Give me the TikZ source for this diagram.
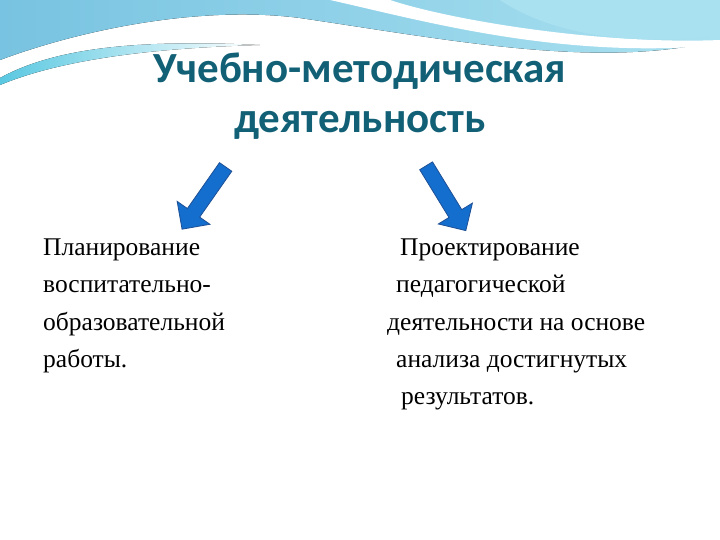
\documentclass[tikz,border=0pt]{standalone}
\usepackage{fontspec}
\setmainfont{Liberation Serif}
\newfontfamily\titlefont{Carlito}
\usetikzlibrary{shapes.arrows}
\definecolor{titleteal}{RGB}{18,96,118}
\definecolor{arrowblue}{RGB}{20,110,205}
\definecolor{arrowedge}{RGB}{30,80,150}
\definecolor{waveA}{RGB}{120,195,225}
\definecolor{waveB}{RGB}{170,225,240}
\definecolor{waveC}{RGB}{90,200,225}
\tikzset{
  bigarrow/.style={single arrow, draw=arrowedge, fill=arrowblue, thick,
    minimum width=40pt, single arrow head extend=9pt, minimum height=76pt,
    single arrow head indent=0pt, inner sep=5pt},
  line/.style={anchor=base west, font=\fontsize{25.5}{30}\selectfont, inner sep=0pt}
}
\begin{document}
\begin{tikzpicture}[x=1pt,y=-1pt]
\useasboundingbox (0,0) rectangle (720,540);
\fill[white] (0,0) rectangle (720,540);
% waves on top
\fill[left color=waveA, right color=waveB] (0,0) -- (720,0) -- (720,40)
  .. controls (600,70) and (450,40) .. (300,18) .. controls (200,5) and (80,30) .. (0,60) -- cycle;
\fill[white] (330,0) .. controls (420,20) and (560,60) .. (720,45) -- (720,40)
  .. controls (600,45) and (450,20) .. (390,0) -- cycle;
\fill[left color=waveC, right color=white] (0,78) .. controls (60,45) and (150,40) .. (260,45)
  .. controls (150,48) and (60,60) .. (0,85) -- cycle;
\fill[waveB] (720,0) -- (720,35) .. controls (650,45) and (560,40) .. (500,0) -- cycle;
% title
\node[font=\titlefont\bfseries\fontsize{43}{50}\selectfont, text=titleteal, align=center] (title)
  at (360,96) {Учебно-методическая\\деятельность};
% arrows
\node[bigarrow, rotate=235] (al) at (206,195) {};
\node[bigarrow, rotate=301.5] (ar) at (444,195) {};
% left text
\node[line] (l1) at (43,255) {Планирование};
\node[line] (l2) at (43,292) {воспитательно-};
\node[line] (l3) at (43,330) {образовательной};
\node[line] (l4) at (43,367) {работы.};
% right text
\node[line] (r1) at (400,255) {Проектирование};
\node[line] (r2) at (396,292) {педагогической};
\node[line] (r3) at (387,330) {деятельности на основе};
\node[line] (r4) at (396,367) {анализа достигнутых};
\node[line] (r5) at (401,404) {результатов.};
\end{tikzpicture}
\end{document}
